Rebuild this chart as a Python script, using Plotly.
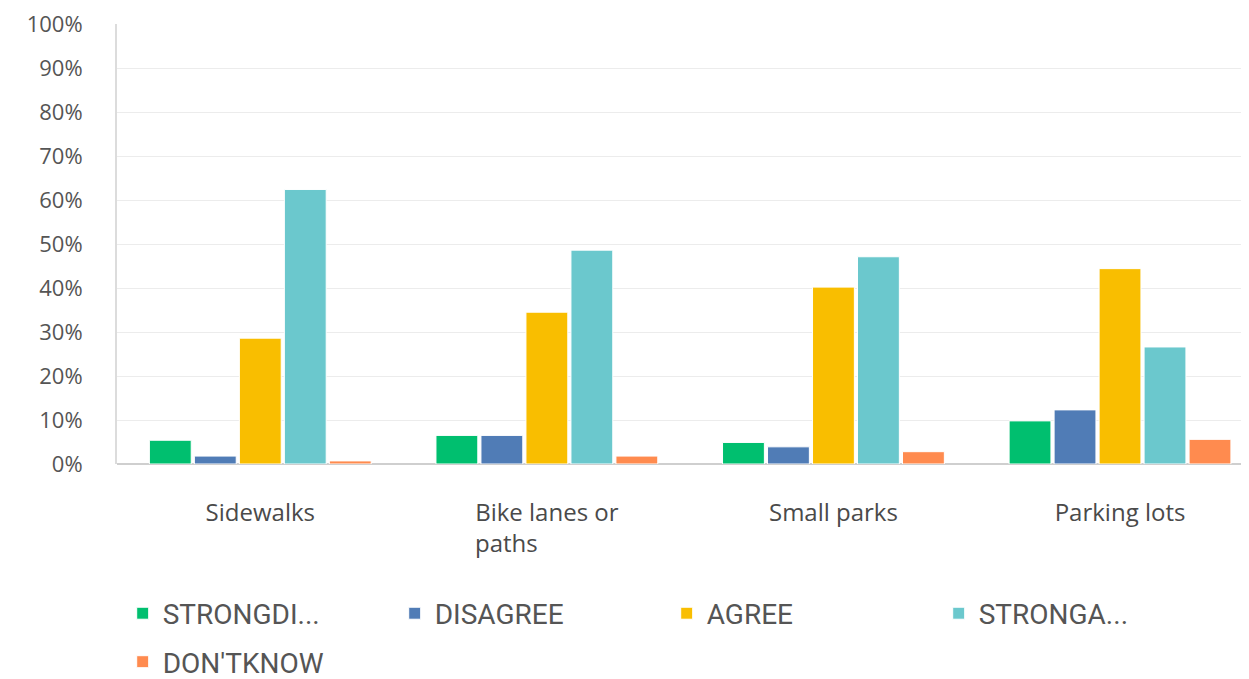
import plotly.graph_objects as go

categories = [
    "Sidewalks",
    "Bike lanes or<br>paths" + "\u00a0" * 13,
    "Small parks",
    "Parking lots",
]

series_names = ["STRONGDI...", "DISAGREE", "AGREE", "STRONGA...", "DON'TKNOW"]
strongly_disagree = [5.4, 6.5, 4.9, 9.8]
disagree = [1.8, 6.5, 3.9, 12.3]
agree = [28.6, 34.5, 40.2, 44.4]
strongly_agree = [62.4, 48.6, 47.1, 26.6]
dont_know = [0.7, 1.8, 2.8, 5.6]

colors = ["#00BF6F", "#507CB6", "#F9BE00", "#6BC8CD", "#FF8B4F"]
values = [strongly_disagree, disagree, agree, strongly_agree, dont_know]

fig = go.Figure()

for i, (name, vals) in enumerate(zip(series_names, values)):
    fig.add_trace(
        go.Bar(
            x=categories,
            y=vals,
            name=name,
            marker=dict(color=colors[i], line=dict(color="white", width=1)),
            legend="legend2" if i == 4 else "legend",
        )
    )

fig.update_xaxes(
    range=[-0.5, 3.478],
    automargin=False,
    showline=False,
    showgrid=False,
    ticks="",
    tickfont=dict(family="Open Sans", size=24, color="#4a4a4a"),
    ticklabelstandoff=32,
)
fig.update_yaxes(
    range=[0, 100],
    automargin=False,
    ticklabeloverflow="allow",
    dtick=10,
    ticksuffix="%",
    showgrid=True,
    gridcolor="#ececec",
    gridwidth=1,
    showline=True,
    linecolor="#dcdcdc",
    linewidth=2,
    zeroline=True,
    zerolinecolor="#cfcfcf",
    zerolinewidth=2,
    ticks="",
    tickfont=dict(family="Open Sans", size=22, color="#555555"),
    ticklabelstandoff=28,
)

legend_style = dict(
    orientation="h",
    xanchor="left",
    yanchor="top",
    x=0.005,
    font=dict(family="Roboto", size=28, color="#555555"),
    entrywidth=227,
    entrywidthmode="pixels",
    bgcolor="rgba(0,0,0,0)",
)

fig.update_layout(
    width=1249,
    height=679,
    margin=dict(l=109, r=0, t=16, b=223),
    template="plotly_white",
    plot_bgcolor="white",
    paper_bgcolor="white",
    barmode="group",
    bargap=0.215,
    bargroupgap=0.07,
    legend=dict(legend_style, y=-0.283),
    legend2=dict(legend_style, y=-0.3934),
)

fig.write_html("out.html")
